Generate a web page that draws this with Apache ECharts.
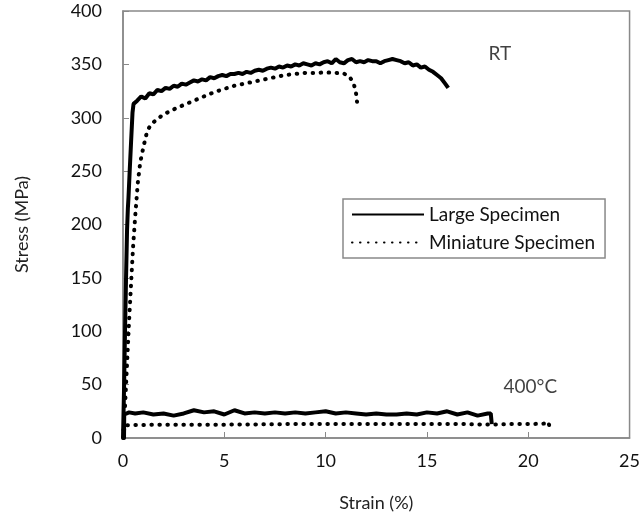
<!DOCTYPE html>
<html>
<head>
<meta charset="utf-8">
<script src="https://cdn.jsdelivr.net/npm/echarts@6/dist/echarts.min.js"></script>
<style>html,body{margin:0;padding:0;background:#fff}#c{width:643px;height:517px}</style>
</head>
<body>
<div id="c"></div>
<script>
// Strain (%) vs Stress (MPa)
const largeRT = [[0,0],[0.05,45],[0.1,100],[0.15,150],[0.2,195],[0.24,215],[0.27,225],[0.33,250],[0.4,278],[0.47,305],[0.52,313],[0.7,316],[0.9,320],[1.1,318],[1.3,323],[1.5,322],[1.7,326],[1.9,325],[2.1,328],[2.3,327],[2.5,330],[2.7,329],[2.9,332],[3.1,331],[3.3,333],[3.5,335],[3.7,334],[3.9,336],[4.1,335],[4.3,338],[4.5,337],[4.7,339],[4.9,340],[5.1,339],[5.3,341],[5.5,341],[5.7,342],[5.9,341],[6.1,343],[6.3,342],[6.5,344],[6.7,345],[6.9,344],[7.1,346],[7.3,347],[7.5,346],[7.7,348],[7.9,347],[8.1,349],[8.3,348],[8.5,350],[8.7,349],[8.9,351],[9.1,350],[9.3,349],[9.5,351],[9.7,350],[9.9,352],[10.1,353],[10.3,351],[10.5,355],[10.7,352],[10.9,351],[11.1,354],[11.3,355],[11.5,352],[11.7,353],[11.9,352],[12.1,354],[12.3,353],[12.5,353],[12.7,351],[12.9,353],[13.1,354],[13.3,355],[13.5,354],[13.7,353],[13.9,351],[14.1,352],[14.3,349],[14.5,350],[14.7,347],[14.9,348],[15.1,345],[15.3,343],[15.5,340],[15.7,337],[15.9,332],[16.05,328]];
const miniRT = [[0,0],[0.1,30],[0.2,70],[0.3,110],[0.4,145],[0.5,180],[0.6,207],[0.73,239],[0.85,258],[1.0,272],[1.2,288],[1.4,294],[1.7,299],[2.0,303],[2.4,307],[3,312],[3.5,316],[4,320],[4.5,324],[5,327],[5.5,330],[6,332],[6.5,334],[7,336],[7.5,338],[8,340],[8.5,341],[9,342],[9.5,342],[10,342.5],[10.5,342],[10.9,341.5],[11.2,338],[11.4,331],[11.5,323],[11.55,315]];
const large400 = [[0.05,0],[0.06,22],[0.3,24],[0.6,23],[1,24],[1.5,22],[2,23],[2.5,21],[3,23],[3.5,26],[4,24],[4.5,25],[5,22],[5.5,26],[6,23],[6.5,24],[7,23],[7.5,24],[8,23],[8.5,24],[9,23],[9.5,24],[10,25],[10.5,23],[11,24],[11.5,23],[12,22],[12.5,23],[13,22],[13.5,22],[14,23],[14.5,22],[15,24],[15.5,23],[16,25],[16.5,22],[17,24],[17.5,21],[18,23],[18.15,23],[18.2,13]];
const mini400 = [[0.05,0],[0.06,12],[2,12.5],[5,12.5],[8,13],[11,13],[14,13],[17,13],[18.2,12.5],[19,13],[20,13],[20.8,13.5],[21,15],[21.05,10]];
const xTicks = [0,5,10,15,20,25];
const yTicks = [0,50,100,150,200,250,300,350,400];
const annotations = [{name:'RT', value:[18.6,360]},{name:'400°C', value:[20.1,48]}];

const font = 'Lato, "Open Sans", sans-serif';
const grey = '#898989';
const solid = {color:'#000', width:4, type:'solid'};
const dotted = {color:'#000', width:4, type:[0.5,7.5], cap:'round'};

const chart = echarts.init(document.getElementById('c'));
chart.setOption({
  animation:false,
  color:['#000','#000'],
  textStyle:{fontFamily:font},
  grid:{left:123, top:11, width:507, height:427, show:true, borderColor:grey, borderWidth:1.5, backgroundColor:'transparent'},
  xAxis:{type:'value', min:xTicks[0], max:xTicks[xTicks.length-1], interval:5,
    name:'Strain (%)', nameLocation:'middle', nameGap:56, nameTextStyle:{fontSize:18, color:'#222', fontFamily:font},
    axisLine:{show:true, lineStyle:{color:grey, width:1.5}}, axisTick:{show:true, inside:true, length:6, lineStyle:{color:grey}},
    axisLabel:{fontSize:18, color:'#111', margin:14, fontFamily:font}, splitLine:{show:false}},
  yAxis:{type:'value', min:yTicks[0], max:yTicks[yTicks.length-1], interval:50,
    name:'Stress (MPa)', nameLocation:'middle', nameGap:92, nameTextStyle:{fontSize:18, color:'#222', fontFamily:font},
    axisLine:{show:true, lineStyle:{color:grey, width:1.5}}, axisTick:{show:true, inside:true, length:6, lineStyle:{color:grey}},
    axisLabel:{fontSize:18, color:'#111', margin:21, fontFamily:font}, splitLine:{show:false}},
  legend:{data:['Large Specimen','Miniature Specimen'], orient:'vertical', left:343, top:199,
    itemWidth:72, itemHeight:12, itemGap:9, padding:[6,10,6,8],
    itemStyle:{opacity:0},
    borderColor:grey, borderWidth:1.5, backgroundColor:'#fff',
    textStyle:{fontSize:19, color:'#111', fontFamily:font}},
  series:[
    {name:'Large Specimen', type:'line', data:largeRT, showSymbol:false, symbol:'none', lineStyle:solid, itemStyle:{color:'#000'}, z:3},
    {name:'Miniature Specimen', type:'line', data:miniRT, showSymbol:false, symbol:'none', lineStyle:dotted, itemStyle:{color:'#000'}, z:2},
    {name:'Large Specimen', type:'line', data:large400, showSymbol:false, symbol:'none', lineStyle:solid, itemStyle:{color:'#000'}, z:3},
    {name:'Miniature Specimen', type:'line', data:mini400, showSymbol:false, symbol:'none', lineStyle:dotted, itemStyle:{color:'#000'}, z:2},
    {name:'annot', type:'scatter', data:annotations, symbolSize:0, silent:true,
      label:{show:true, position:'inside', formatter:p=>p.name, fontSize:19, color:'#111', fontFamily:font}}
  ]
});
</script>
</body>
</html>
